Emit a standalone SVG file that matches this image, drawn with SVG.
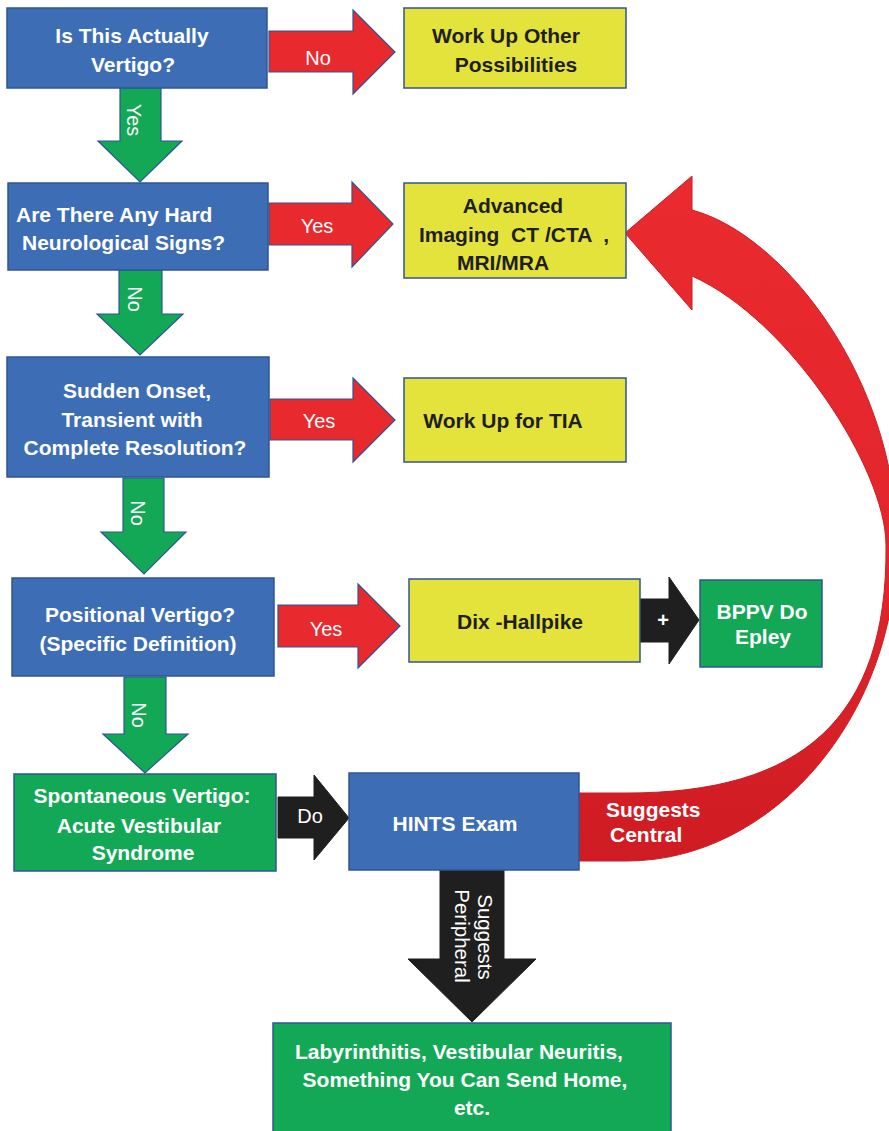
<svg xmlns="http://www.w3.org/2000/svg" width="889" height="1131" viewBox="0 0 889 1131">
  <style>
    .blue { fill: #3d6db5; stroke: #2f5597; stroke-width: 1.5; }
    .yellow { fill: #e3e33c; stroke: #2f5597; stroke-width: 1.5; }
    .green { fill: #13a855; stroke: #2f5597; stroke-width: 1.5; }
    .red { fill: #e8292e; stroke: #2f5597; stroke-width: 1.2; }
    .garrow { fill: #13a855; stroke: #2f5597; stroke-width: 1.2; }
    .black { fill: #1f1f1f; stroke: #1f1f1f; stroke-width: 1; }
    text { font-family: "Liberation Sans", Arial, Helvetica, sans-serif; }
    .tw { fill: #ffffff; font-weight: bold; font-size: 21px; text-anchor: middle; }
    .tk { fill: #1f1f1f; font-weight: bold; font-size: 21px; text-anchor: middle; }
    .lbl { fill: #ffffff; font-size: 20px; text-anchor: middle; }
  </style>
  <defs>
    <linearGradient id="curveRed" gradientUnits="userSpaceOnUse" x1="0" y1="176" x2="0" y2="861">
      <stop offset="0" stop-color="#ea2a2f"/>
      <stop offset="0.55" stop-color="#e2262c"/>
      <stop offset="1" stop-color="#cf1b23"/>
    </linearGradient>
  </defs>

  <!-- connectors -->
  <g id="connectors">
    <!-- right-pointing block arrows -->
    <polygon class="red" points="269,31 353,31 353,10 395,52 353,94 353,72 269,72"/>
    <polygon class="red" points="269,203 352,203 352,182 393,224 352,267 352,245 269,245"/>
    <polygon class="red" points="270,399 353,399 353,378 395,420 353,462 353,440 270,440"/>
    <polygon class="red" points="278,605 358,605 358,584 400,626 358,668 358,647 278,647"/>
    <polygon class="black" points="640,599 669,599 669,577 699,620 669,664 669,642 640,642"/>
    <polygon class="black" points="278,797 314,797 314,775 349,818 314,860 314,838 278,838"/>

    <!-- down-pointing block arrows -->
    <polygon class="garrow" points="120,88 161,88 161,141 182,141 140,182 98,141 120,141"/>
    <polygon class="garrow" points="119,270 162,270 162,314 183,314 140,355 97,314 119,314"/>
    <polygon class="garrow" points="123,478 164,478 164,532 186,532 144,574 101,532 123,532"/>
    <polygon class="garrow" points="124,677 166,677 166,734 188,734 145,773 103,734 124,734"/>
    <polygon class="black" points="440,869 504,869 504,959 536,959 472,1022 408,959 440,959"/>

    <!-- curved return arrow from HINTS back to imaging -->
    <path fill="url(#curveRed)" stroke="#c81e25" stroke-width="1"
          d="M 579 793 L 627 793 C 800 793 888 720 886 545 C 886 470 790 320 692 276 L 692 310 L 625 233 L 692 176 L 692 210 C 785 235 895 380 897 540 C 897 720 770 861 627 861 L 579 861 Z"/>

    <!-- arrow labels -->
    <text class="lbl" x="318" y="65">No</text>
    <text class="lbl" x="317" y="233">Yes</text>
    <text class="lbl" x="319" y="428">Yes</text>
    <text class="lbl" x="326" y="636">Yes</text>
    <text class="tw" x="663" y="627" style="font-size:20px">+</text>
    <text class="lbl" x="310" y="823">Do</text>
    <text class="lbl" transform="translate(127,120) rotate(90)">Yes</text>
    <text class="lbl" transform="translate(128,299) rotate(90)">No</text>
    <text class="lbl" transform="translate(131,513) rotate(90)">No</text>
    <text class="lbl" transform="translate(132,715) rotate(90)">No</text>
    <text class="lbl" transform="translate(478,937) rotate(90)" style="font-size:20.5px">Suggests</text>
    <text class="lbl" transform="translate(455,936) rotate(90)" style="font-size:20.5px">Peripheral</text>
    <text class="tw" x="606" y="817" style="text-anchor:start">Suggests</text>
    <text class="tw" x="610" y="842" style="text-anchor:start">Central</text>
  </g>

  <!-- decision nodes -->
  <g id="q-vertigo">
    <rect class="blue" x="7" y="8" width="260" height="80"/>
    <text class="tw" x="132" y="43">Is This Actually</text>
    <text class="tw" x="133" y="72">Vertigo?</text>
  </g>
  <g id="q-neuro">
    <rect class="blue" x="8" y="183" width="260" height="87"/>
    <text class="tw" x="16" y="222" style="text-anchor:start">Are There Any Hard</text>
    <text class="tw" x="22" y="250" style="text-anchor:start">Neurological Signs?</text>
  </g>
  <g id="q-transient">
    <rect class="blue" x="7" y="357" width="262" height="120"/>
    <text class="tw" x="137" y="398">Sudden Onset,</text>
    <text class="tw" x="132" y="427">Transient with</text>
    <text class="tw" x="135" y="455">Complete Resolution?</text>
  </g>
  <g id="q-positional">
    <rect class="blue" x="12" y="578" width="262" height="98"/>
    <text class="tw" x="140" y="622">Positional Vertigo?</text>
    <text class="tw" x="138" y="651">(Specific Definition)</text>
  </g>

  <!-- outcome nodes -->
  <g id="other">
    <rect class="yellow" x="404" y="8" width="222" height="80"/>
    <text class="tk" x="506" y="43">Work Up Other</text>
    <text class="tk" x="516" y="72">Possibilities</text>
  </g>
  <g id="imaging">
    <rect class="yellow" x="404" y="183" width="222" height="95"/>
    <text class="tk" x="513" y="213">Advanced</text>
    <text class="tk" x="514" y="242" style="white-space:pre">Imaging  CT /CTA  ,</text>
    <text class="tk" x="503" y="270">MRI/MRA</text>
  </g>
  <g id="tia">
    <rect class="yellow" x="404" y="378" width="222" height="84"/>
    <text class="tk" x="503" y="428">Work Up for TIA</text>
  </g>
  <g id="dix-hallpike">
    <rect class="yellow" x="409" y="579" width="231" height="83"/>
    <text class="tk" x="520" y="629">Dix -Hallpike</text>
  </g>
  <g id="bppv">
    <rect class="green" x="700" y="580" width="122" height="87"/>
    <text class="tw" x="762" y="619">BPPV Do</text>
    <text class="tw" x="763" y="644">Epley</text>
  </g>
  <g id="avs">
    <rect class="green" x="14" y="774" width="262" height="97"/>
    <text class="tw" x="142" y="803">Spontaneous Vertigo:</text>
    <text class="tw" x="139" y="833">Acute Vestibular</text>
    <text class="tw" x="143" y="860">Syndrome</text>
  </g>
  <g id="hints">
    <rect class="blue" x="349" y="773" width="230" height="97"/>
    <text class="tw" x="455" y="831">HINTS Exam</text>
  </g>
  <g id="peripheral">
    <rect class="green" x="273" y="1023" width="398" height="120"/>
    <text class="tw" x="459" y="1059">Labyrinthitis, Vestibular Neuritis,</text>
    <text class="tw" x="465" y="1087">Something You Can Send Home,</text>
    <text class="tw" x="472" y="1115">etc.</text>
  </g>
</svg>
